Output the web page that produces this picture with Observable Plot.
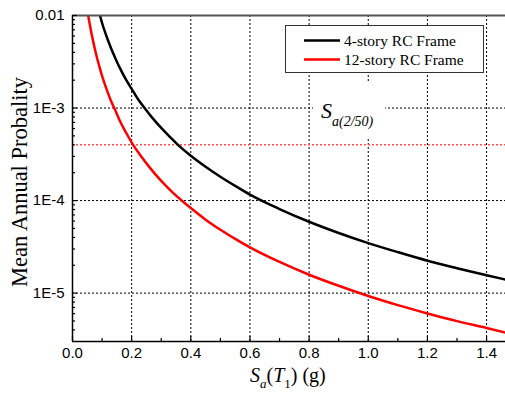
<!DOCTYPE html>
<html>
<head>
<meta charset="utf-8">
<script src="https://cdn.jsdelivr.net/npm/d3@7"></script>
<script src="https://cdn.jsdelivr.net/npm/@observablehq/plot@0.6"></script>
<style>
  html, body { margin: 0; padding: 0; background: #fff; }
  #chart { position: relative; width: 505px; height: 394px; }
</style>
</head>
<body>
<div id="chart"></div>
<script>
// 4-story RC frame hazard curve
const sa4 = [0.093, 0.1, 0.11, 0.12, 0.13, 0.14, 0.15, 0.16, 0.18, 0.2, 0.22, 0.245, 0.27, 0.3, 0.33, 0.353, 0.4, 0.45, 0.5, 0.55, 0.6, 0.7, 0.8, 0.9, 1.0, 1.1, 1.2, 1.3, 1.4, 1.464];
const p4  = [1.0e-2, 8.3e-3, 6.6e-3, 5.4e-3, 4.46e-3, 3.74e-3, 3.17e-3, 2.72e-3, 2.05e-3, 1.61e-3, 1.27e-3, 9.9e-4, 7.83e-4, 6.09e-4, 4.86e-4, 4.1e-4, 3.05e-4, 2.32e-4, 1.81e-4, 1.44e-4, 1.16e-4, 8.1e-5, 5.9e-5, 4.46e-5, 3.47e-5, 2.77e-5, 2.24e-5, 1.86e-5, 1.56e-5, 1.40e-5];
// 12-story RC frame hazard curve
const sa12 = [0.053, 0.06, 0.07, 0.08, 0.09, 0.1, 0.11, 0.12, 0.13, 0.145, 0.16, 0.18, 0.205, 0.23, 0.26, 0.3, 0.34, 0.376, 0.4, 0.45, 0.5, 0.55, 0.6, 0.7, 0.8, 0.9, 1.0, 1.1, 1.2, 1.3, 1.4, 1.464];
const p12  = [1.0e-2, 7.5e-3, 5.22e-3, 3.79e-3, 2.87e-3, 2.23e-3, 1.78e-3, 1.45e-3, 1.2e-3, 9.4e-4, 7.29e-4, 5.51e-4, 4.0e-4, 3.07e-4, 2.3e-4, 1.63e-4, 1.21e-4, 9.6e-5, 8.3e-5, 6.22e-5, 4.84e-5, 3.86e-5, 3.12e-5, 2.17e-5, 1.58e-5, 1.2e-5, 9.3e-6, 7.41e-6, 6.03e-6, 4.98e-6, 4.2e-6, 3.75e-6];
// 2% in 50 years hazard level
const hazardLevel = [4e-4];

const seriesNames = ["4-story RC Frame", "12-story RC Frame"];
const seriesColors = ["#000000", "#ff0000"];

const xTicks = [0, 0.2, 0.4, 0.6, 0.8, 1.0, 1.2, 1.4];
const xTickLabels = ["0.0", "0.2", "0.4", "0.6", "0.8", "1.0", "1.2", "1.4"];
const xMinorTicks = [0.1, 0.3, 0.5, 0.7, 0.9, 1.1, 1.3];
const xGrid = [0.2, 0.4, 0.6, 0.8, 1.0, 1.2, 1.4];
const yTicks = [1e-5, 1e-4, 1e-3, 1e-2];
const yTickLabels = ["1E-5", "1E-4", "1E-3", "0.01"];
const yGrid = [1e-5, 1e-4, 1e-3];
const yMinorTicks = [4e-6,5e-6,6e-6,7e-6,8e-6,9e-6,
  2e-5,3e-5,4e-5,5e-5,6e-5,7e-5,8e-5,9e-5,
  2e-4,3e-4,4e-4,5e-4,6e-4,7e-4,8e-4,9e-4,
  2e-3,3e-3,4e-3,5e-3,6e-3,7e-3,8e-3,9e-3];

const xDomain = [0, 1.464];
const yDomain = [3e-6, 0.01];

const data4 = sa4.map((x, i) => ({x, y: p4[i]}));
const data12 = sa12.map((x, i) => ({x, y: p12[i]}));

const chart = Plot.plot({
  width: 505,
  height: 394,
  marginLeft: 72,
  marginRight: 0,
  marginTop: 15,
  marginBottom: 53,
  style: { fontFamily: "'Liberation Sans', Arial, sans-serif", fontSize: "15px", color: "#000", background: "#fff" },
  x: { domain: xDomain },
  y: { type: "log", domain: yDomain },
  marks: [
    Plot.gridX(xGrid, { stroke: "#000", strokeOpacity: 1, strokeWidth: 1, strokeDasharray: "2,2" }),
    Plot.gridY(yGrid, { stroke: "#000", strokeOpacity: 1, strokeWidth: 1, strokeDasharray: "2,2" }),
    Plot.ruleY(hazardLevel, { stroke: "#ff5050", strokeWidth: 1.5, strokeDasharray: "2,2" }),
    Plot.line(data4, { x: "x", y: "y", stroke: seriesColors[0], strokeWidth: 2.5, curve: "monotone-x", clip: true }),
    Plot.line(data12, { x: "x", y: "y", stroke: seriesColors[1], strokeWidth: 2.5, curve: "monotone-x", clip: true }),
    Plot.ruleY([yDomain[1]], { stroke: "#555", strokeWidth: 2 }),
    Plot.ruleX([xDomain[0]], { stroke: "#000", strokeWidth: 1.5 }),
    Plot.ruleY([yDomain[0]], { stroke: "#000", strokeWidth: 1.5 }),
    // inward ticks
    Plot.axisY({ ticks: yTicks, tickSize: 5, dx: 5, fill: "none", strokeWidth: 1.2, label: null }),
    Plot.axisY({ ticks: yMinorTicks, tickSize: 3, dx: 3, fill: "none", strokeWidth: 1.2, label: null }),
    Plot.axisX({ ticks: xTicks, tickSize: 5, dy: -5, fill: "none", strokeWidth: 1.2, label: null }),
    Plot.axisX({ ticks: xMinorTicks, tickSize: 3, dy: -3, fill: "none", strokeWidth: 1.2, label: null }),
    // tick labels
    Plot.axisY({ ticks: yTicks, tickSize: 0, tickPadding: 8, tickFormat: d => yTickLabels[yTicks.indexOf(d)], label: null, fontSize: 15 }),
    Plot.axisX({ ticks: xTicks, tickSize: 0, tickPadding: 6, tickFormat: d => xTickLabels[xTicks.indexOf(d)], label: null, fontSize: 15 })
  ]
});

document.getElementById("chart").appendChild(chart);

const svg = d3.select(chart);
const serif = "'Liberation Serif', 'Times New Roman', serif";

// Sa(2/50) annotation
svg.append("rect").attr("x", 313).attr("y", 83).attr("width", 72).attr("height", 54).attr("fill", "#fff");
const sa = svg.append("text").attr("x", 321).attr("y", 118).attr("text-anchor", "start").attr("font-family", serif).attr("fill", "#000");
sa.append("tspan").attr("font-style", "italic").attr("font-size", 22).text("S");
sa.append("tspan").attr("font-style", "italic").attr("font-size", 14).attr("dy", 8).text("a(2/50)");

// Legend
const lg = svg.append("g");
lg.append("rect").attr("x", 285.5).attr("y", 25.5).attr("width", 198).attr("height", 47).attr("fill", "#fff").attr("stroke", "#333").attr("stroke-width", 1);
seriesNames.forEach((name, i) => {
  const y = 40.5 + i * 19;
  lg.append("line").attr("x1", 304).attr("x2", 340).attr("y1", y).attr("y2", y).attr("stroke", seriesColors[i]).attr("stroke-width", 2.5);
  lg.append("text").attr("x", 344).attr("y", y + 5.5).attr("text-anchor", "start").attr("font-family", serif).attr("font-size", 15.5).attr("fill", "#000").text(name);
});

// Y axis label
svg.append("text").attr("transform", "translate(27,182) rotate(-90)").attr("text-anchor", "middle")
  .attr("font-family", serif).attr("font-size", 22.5).attr("fill", "#000").text("Mean Annual Probality");

// X axis label
const xl = svg.append("text").attr("x", 250).attr("y", 382).attr("text-anchor", "start").attr("font-family", serif).attr("font-size", 20).attr("fill", "#000");
xl.append("tspan").attr("font-style", "italic").text("S");
xl.append("tspan").attr("font-style", "italic").attr("font-size", 13).attr("dy", 6).text("a");
xl.append("tspan").attr("dy", -6).text("(");
xl.append("tspan").attr("font-style", "italic").text("T");
xl.append("tspan").attr("font-size", 13).attr("dy", 6).text("1");
xl.append("tspan").attr("dy", -6).text(") (g)");
</script>
</body>
</html>
